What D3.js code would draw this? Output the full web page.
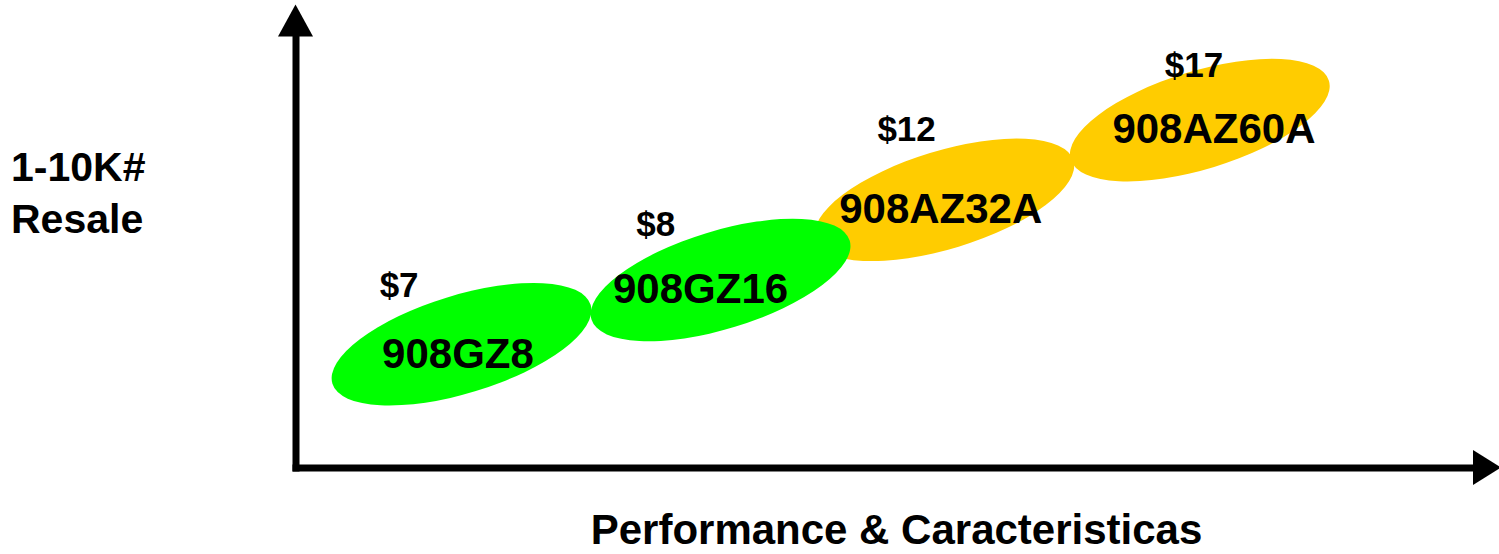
<!DOCTYPE html>
<html><head><meta charset="utf-8">
<script src="https://cdn.jsdelivr.net/npm/d3@7"></script>
<style>html,body{margin:0;padding:0;background:#fff;} svg{display:block}</style>
</head><body>
<svg id="chart" width="1499" height="554"></svg>
<script>
// ---- data ----
const products = ["908GZ8", "908GZ16", "908AZ32A", "908AZ60A"];
const prices = ["$7", "$8", "$12", "$17"];
const families = ["GZ", "GZ", "AZ", "AZ"];
const performance = [14.1, 36.1, 55.1, 76.8];     // ellipse centre along performance axis (0-100)
const resaleLevel = [28.6, 43.5, 62.1, 80.6];     // ellipse centre along resale axis (0-100)
const nameLabelPerf = [13.8, 34.4, 54.8, 78.0];
const nameLabelLevel = [23.1, 38.2, 56.7, 75.3];
const priceLabelPerf = [8.8, 30.6, 51.9, 76.3];
const priceLabelLevel = [39.6, 53.7, 75.8, 90.6];
const familyNames = ["GZ", "AZ"];
const familyColors = ["#00FF00", "#FFCC00"];
const xTitle = "Performance & Caracteristicas";
const yTitle = ["1-10K#", "Resale"];

const data = products.map((p, i) => ({
  name: p, price: prices[i], fam: families[i],
  perf: performance[i], level: resaleLevel[i],
  nPerf: nameLabelPerf[i], nLevel: nameLabelLevel[i],
  pPerf: priceLabelPerf[i], pLevel: priceLabelLevel[i]
}));

const svg = d3.select("#chart");
const font = "'Liberation Sans', Arial, Helvetica, sans-serif";
const x = d3.scaleLinear([0, 100], [295.5, 1473]);
const y = d3.scaleLinear([0, 100], [467.5, 36.5]);
const color = d3.scaleOrdinal(familyNames, familyColors);

// ellipses (drawn last-first so lower ones sit on top at overlaps)
const rx = 135, ry = 49, tilt = -17;
svg.append("g").selectAll("ellipse")
  .data(data.slice().reverse())
  .join("ellipse")
  .attr("cx", 0).attr("cy", 0)
  .attr("rx", rx).attr("ry", ry)
  .attr("transform", d => `translate(${x(d.perf)},${y(d.level)}) rotate(${tilt})`)
  .attr("fill", d => color(d.fam));

// product labels
svg.append("g").selectAll("text")
  .data(data)
  .join("text")
  .attr("x", d => x(d.nPerf))
  .attr("y", d => y(d.nLevel))
  .attr("text-anchor", "middle")
  .attr("font-family", font).attr("font-weight", "bold").attr("font-size", 42)
  .attr("fill", "#000")
  .text(d => d.name);

// price labels
svg.append("g").selectAll("text")
  .data(data)
  .join("text")
  .attr("x", d => x(d.pPerf))
  .attr("y", d => y(d.pLevel))
  .attr("text-anchor", "middle")
  .attr("font-family", font).attr("font-weight", "bold").attr("font-size", 35)
  .attr("fill", "#000")
  .text(d => d.price);

// axes
const styleDomain = g => g.select(".domain")
  .attr("stroke", "#000").attr("stroke-width", 7).attr("stroke-linecap", "square");
svg.append("g").attr("transform", `translate(0,${y(0)})`)
  .call(d3.axisBottom(x).tickValues([]).tickSizeOuter(0)).call(styleDomain);
svg.append("g").attr("transform", `translate(${x(0)},0)`)
  .call(d3.axisLeft(y).tickValues([]).tickSizeOuter(0)).call(styleDomain);

// arrowheads
const x0 = x(0), y0 = y(0), xEnd = x(100), yEnd = y(100);
svg.append("path")
  .attr("d", d3.line()([[x0 - 17.5, yEnd], [x0 + 17.5, yEnd], [x0, yEnd - 32]]) + "Z")
  .attr("fill", "#000");
svg.append("path")
  .attr("d", d3.line()([[xEnd, y0 - 17.5], [xEnd, y0 + 17.5], [xEnd + 28, y0]]) + "Z")
  .attr("fill", "#000");

// axis titles
svg.append("text")
  .attr("x", (x(0) - 3.5 + xEnd + 28) / 2).attr("y", 544)
  .attr("text-anchor", "middle")
  .attr("font-family", font).attr("font-weight", "bold").attr("font-size", 42)
  .text(xTitle);

svg.append("g").selectAll("text")
  .data(yTitle)
  .join("text")
  .attr("x", 11)
  .attr("y", (d, i) => 181 + i * 52)
  .attr("font-family", font).attr("font-weight", "bold").attr("font-size", 41)
  .text(d => d);
</script>
</body></html>
